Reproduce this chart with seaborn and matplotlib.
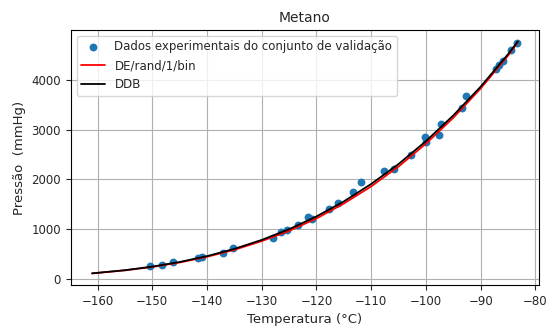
import numpy as np
import pandas as pd
import matplotlib
matplotlib.use('Agg')
import matplotlib.pyplot as plt
import seaborn as sns

# validation points
temp_exp = [-150.5, -148.3, -146.3, -141.6, -141.0, -137.0, -135.3, -127.9, -126.5, -125.3,
            -123.3, -121.5, -120.8, -117.7, -116.1, -113.3, -111.8, -107.6, -105.9, -102.8,
            -100.1, -100.0, -97.7, -97.2, -93.5, -92.6, -87.2, -86.6, -85.9, -84.4, -83.3]
pres_exp = [252, 287, 333, 421, 447, 513, 613, 822, 934, 988,
            1082, 1248, 1214, 1400, 1535, 1745, 1956, 2178, 2220, 2495,
            2845, 2745, 2895, 3120, 3430, 3673, 4228, 4309, 4375, 4609, 4741]

# model curves
temp_curve = [-161, -155, -150, -145, -140, -135, -130, -125, -120, -115,
              -110, -105, -100, -95, -90, -85, -83.2]
pres_ddb = [112, 175, 247, 340, 458, 604, 784, 999, 1256, 1558,
            1909, 2310, 2770, 3287, 3866, 4518, 4775]
pres_de = [110, 172, 240, 330, 445, 585, 760, 965, 1215, 1515,
           1860, 2260, 2720, 3240, 3830, 4490, 4760]

sns.set_style("ticks", {"axes.grid": True, "grid.color": "#b0b0b0",
                        "axes.edgecolor": "black"})
plt.rcParams['font.family'] = ['DejaVu Sans']

df_exp = pd.DataFrame({'T': temp_exp, 'P': pres_exp})
df_curve = pd.DataFrame({'T': temp_curve, 'DDB': pres_ddb, 'DE': pres_de})

fig, ax = plt.subplots(figsize=(5.53, 3.28), dpi=100)
sns.scatterplot(data=df_exp, x='T', y='P', ax=ax, s=32, linewidth=0,
                color='#1f77b4', label='Dados experimentais do conjunto de validação', zorder=2)
sns.lineplot(data=df_curve, x='T', y='DE', ax=ax, color='red', linewidth=1.3,
             label='DE/rand/1/bin', zorder=3)
sns.lineplot(data=df_curve, x='T', y='DDB', ax=ax, color='black', linewidth=1.3,
             label='DDB', zorder=4)

ax.set_title('Metano', fontsize=10)
ax.set_xlabel('Temperatura (°C)', fontsize=9.5)
ax.set_ylabel('Pressão  (mmHg)', fontsize=9.5)
ax.tick_params(labelsize=8.5)
ax.set_xticks(range(-160, -79, 10))
ax.set_yticks(range(0, 4001, 1000))
ax.legend(loc='upper left', fontsize=8.5, framealpha=0.8)
ax.grid(True, linewidth=0.8)

plt.subplots_adjust(left=0.128, right=0.975, top=0.909, bottom=0.131)
plt.savefig('out.png', dpi=100)
